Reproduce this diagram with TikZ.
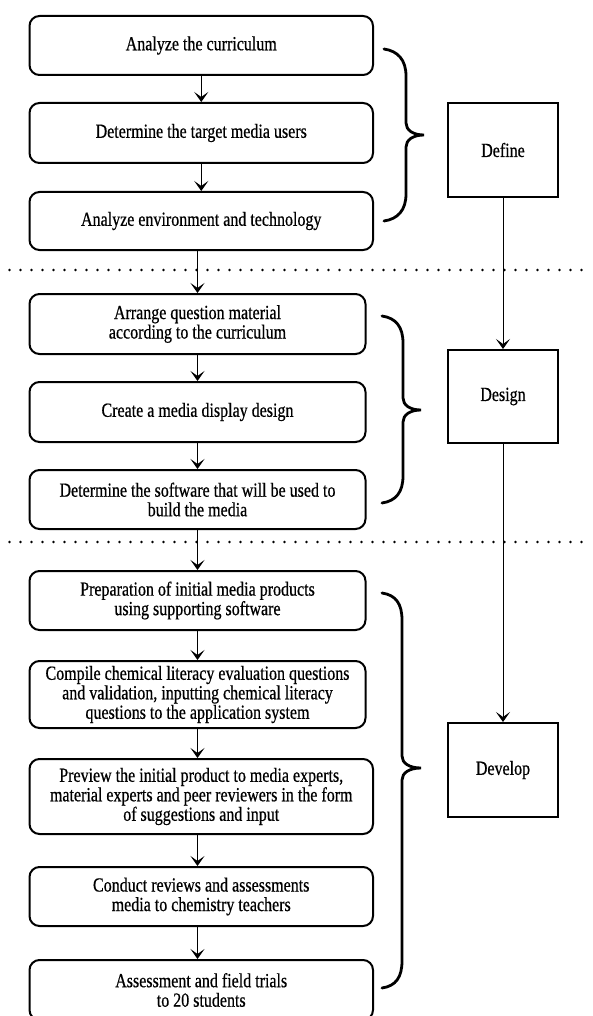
\documentclass[tikz,border=0pt]{standalone}
\usepackage{fontspec}
\setmainfont{Liberation Serif}[FakeStretch=0.8,FakeBold=0.6]
\usetikzlibrary{arrows.meta}
\begin{document}
\begin{tikzpicture}[x=1pt,y=-1pt,
  box/.style={draw, line width=2pt, rounded corners=10pt, align=center, inner sep=0pt, font=\fontsize{20}{19.5}\selectfont},
  phase/.style={draw, line width=2pt, inner sep=0pt, minimum width=110pt, font=\fontsize{20}{19.5}\selectfont},
  arr/.style={line width=1pt, -{Stealth[length=10pt,width=14pt,inset=5pt]}},
  brc/.style={line width=2.8pt, line cap=round},
  sep/.style={line width=2.6pt, line cap=round, dash pattern=on 0pt off 11pt}]
\useasboundingbox (0,0) rectangle (592,1016);
\clip (0,0) rectangle (592,1016);
% left column
\node[box, minimum width=343.5pt, minimum height=59pt] (b1) at (201.25,45.5) {Analyze the curriculum};
\node[box, minimum width=343.5pt, minimum height=60pt] (b2) at (201.25,133) {Determine the target media users};
\node[box, minimum width=343.5pt, minimum height=58pt] (b3) at (201.25,221) {Analyze environment and technology};
\node[box, minimum width=336pt, minimum height=60pt] (b4) at (197.5,324) {Arrange question material\\according to the curriculum};
\node[box, minimum width=336pt, minimum height=60pt] (b5) at (197.5,412) {Create a media display design};
\node[box, minimum width=336pt, minimum height=59pt] (b6) at (197.5,499.5) {Determine the software that will be used to\\build the media};
\node[box, minimum width=336pt, minimum height=59pt] (b7) at (197.5,600.5) {Preparation of initial media products\\using supporting software};
\node[box, minimum width=336pt, minimum height=67pt] (b8) at (197.5,694.5) {Compile chemical literacy evaluation questions\\and validation, inputting chemical literacy\\questions to the application system};
\node[box, minimum width=343.5pt, minimum height=75pt] (b9) at (201.25,796.5) {Preview the initial product to media experts,\\material experts and peer reviewers in the form\\of suggestions and input};
\node[box, minimum width=343.5pt, minimum height=59pt] (b10) at (201.25,896.5) {Conduct reviews and assessments\\media to chemistry teachers};
\node[box, minimum width=343.5pt, minimum height=60pt] (b11) at (201.25,990) {Assessment and field trials\\to 20 students};
% right column
\node[phase, minimum height=94pt] (def) at (503,150) {Define};
\node[phase, minimum height=93pt] (des) at (503,396.5) {Design};
\node[phase, minimum height=94pt] (dev) at (503,770) {Develop};
% separators
\draw[sep] (9.5,270) -- (592,270);
\draw[sep] (9.5,542) -- (592,542);
% connectors
\draw[arr] (b1.south) -- (b2.north);
\draw[arr] (b2.south) -- (b3.north);
\draw[arr] (b4.north |- b3.south) -- (b4.north);
\draw[arr] (b4.south) -- (b5.north);
\draw[arr] (b5.south) -- (b6.north);
\draw[arr] (b6.south) -- (b7.north);
\draw[arr] (b7.south) -- (b8.north);
\draw[arr] (b8.south) -- (b8.south |- b9.north);
\draw[arr] (b9.south -| b8.south) -- (b10.north -| b8.south);
\draw[arr] (b10.south -| b8.south) -- (b11.north -| b8.south);
\draw[arr] (def.south) -- (des.north);
\draw[arr] (des.south) -- (dev.north);
% braces
\draw[brc] (384,49) .. controls (398,51) and (406,60) .. (406,76) -- (406,123) .. controls (406,130) and (413,135) .. (424,135) .. controls (413,135) and (406,140) .. (406,147) -- (406,194) .. controls (406,210) and (398,219) .. (384,221);
\draw[brc] (382,316) .. controls (396,318) and (403,327) .. (403,343) -- (403,398) .. controls (403,405) and (410,410) .. (421,410) .. controls (410,410) and (403,415) .. (403,422) -- (403,476) .. controls (403,492) and (396,501) .. (382,503);
\draw[brc] (382,593) .. controls (396,595) and (402,604) .. (402,620) -- (402,756) .. controls (402,763) and (409,768) .. (421,768) .. controls (409,768) and (402,773) .. (402,780) -- (402,961) .. controls (402,977) and (396,986) .. (382,988);
\end{tikzpicture}
\end{document}
